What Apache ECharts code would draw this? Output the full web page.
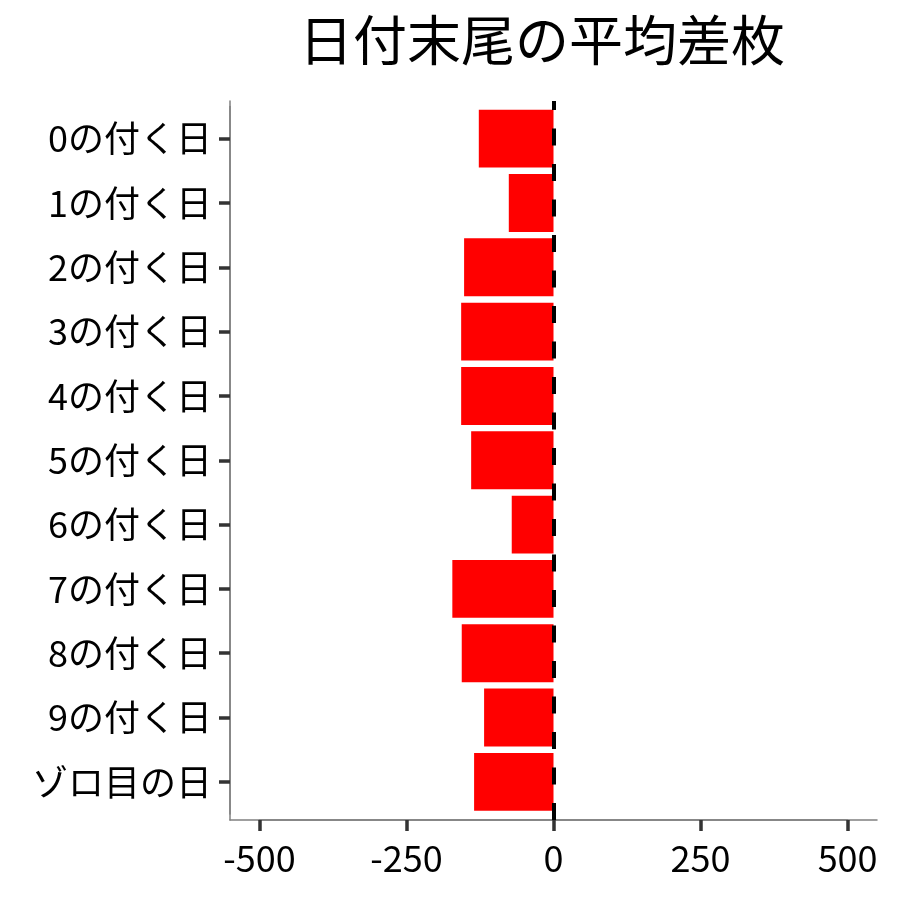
<!DOCTYPE html>
<html lang="ja">
<head>
	<meta charset="UTF-8">
	<title>日付末尾の平均差枚</title>
	<script src="https://cdn.jsdelivr.net/npm/echarts@6/dist/echarts.min.js"></script>
	<style>
		html,body{margin:0;padding:0;background:#fff;}
	</style>
</head>
<body>
	<div id="app" style="width: 900px;height:900px"></div>

	<script>
		// データ
		var categories=["0の付く日","1の付く日","2の付く日","3の付く日","4の付く日","5の付く日","6の付く日","7の付く日","8の付く日","9の付く日","ゾロ目の日"];
		var avgDiff=[-127, -76, -152, -157, -157, -140, -71, -172, -156, -118, -135];
		var tickMin=-500, tickMax=500, tickStep=250;//目盛り
		var xMin=-550, xMax=550;//描画範囲

		var font="Noto Sans CJK JP";
		var axisGray='#808080';
		var myChart=echarts.init(document.getElementById('app'));
		var option={
			animation:false,
			textStyle:{fontFamily:font},
			title:{
				text:"日付末尾の平均差枚",
				left:537,
				top:8,
				textAlign:'center',
				textStyle:{fontSize:54,fontWeight:'normal',color:'#000',fontFamily:font}
			},
			grid:[
				{left:230,right:23,top:101,bottom:80},//枠線用
				{left:230,right:23,top:106.5,bottom:86},//棒グラフ用
				{left:259.4,right:52.4,top:101,bottom:80}//x目盛り用
			],
			xAxis:[
				{
					gridIndex:0,type:"value",min:xMin,max:xMax,
					axisLine:{show:true,onZero:false,lineStyle:{color:axisGray,width:1.5}},
					axisTick:{show:false},axisLabel:{show:false},splitLine:{show:false}
				},
				{
					gridIndex:1,type:"value",min:xMin,max:xMax,show:false,
					splitLine:{show:false}
				},
				{
					gridIndex:2,type:"value",min:tickMin,max:tickMax,interval:tickStep,
					axisLine:{show:true,onZero:false,lineStyle:{color:axisGray,width:1.5}},
					axisTick:{show:true,length:11,lineStyle:{color:'#333',width:3.5}},
					axisLabel:{fontSize:36,color:'#000',margin:20,fontFamily:font},
					splitLine:{show:false}
				}
			],
			yAxis:[
				{
					gridIndex:0,type:"value",min:0,max:1,
					axisLine:{show:true,onZero:false,lineStyle:{color:axisGray,width:1.5}},
					axisTick:{show:false},axisLabel:{show:false},splitLine:{show:false}
				},
				{
					gridIndex:1,type:"category",inverse:true,data:categories,
					axisLine:{show:true,onZero:false,lineStyle:{color:axisGray,width:1.5}},
					axisTick:{show:true,length:11,alignWithLabel:true,lineStyle:{color:'#333',width:3.5}},
					axisLabel:{fontSize:36,color:'#000',margin:18,fontFamily:font},
					splitLine:{show:false}
				},
				{
					gridIndex:2,type:"value",min:0,max:1,show:false,
					splitLine:{show:false}
				}
			],
			series:[
				{
					type:"bar",
					xAxisIndex:1,yAxisIndex:1,
					data:avgDiff,
					barCategoryGap:'10%',
					itemStyle:{color:'#ff0000'},
					z:2
				},
				{
					type:"line",
					xAxisIndex:0,yAxisIndex:0,
					data:[],
					z:5,
					markLine:{//0の破線
						silent:true,
						symbol:'none',
						label:{show:false},
						lineStyle:{color:'#000',type:[17,18.5],width:4},
						data:[{xAxis:0}]
					}
				}
			]
		};
		myChart.setOption(option);
	</script>
</body>
</html>
